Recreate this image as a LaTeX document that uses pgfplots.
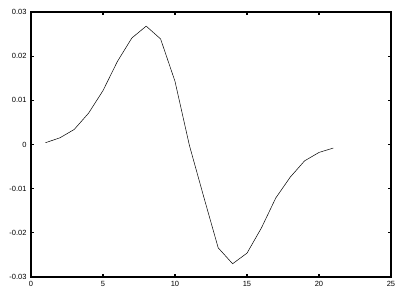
\documentclass[border=0pt]{standalone}
\usepackage{pgfplots}
\pgfplotsset{compat=1.18}
\usepackage{fontspec}
\setmainfont{Liberation Sans}
\begin{document}
\begin{tikzpicture}[x=1pt,y=1pt]
\begin{axis}[
  scale only axis,
  width=360pt, height=265pt,
  xmin=0, xmax=25, ymin=-0.03, ymax=0.03,
  xtick={0,5,10,15,20,25},
  ytick={-0.03,-0.02,-0.01,0,0.01,0.02,0.03},
  yticklabels={-0.03,-0.02,-0.01,0,0.01,0.02,0.03},
  scaled y ticks=false,
  tick align=inside,
  major tick length=3pt,
  axis line style={line width=1.6pt},
  every tick/.style={black, line width=1.2pt},
  tick label style={font=\fontsize{7.5}{8}\selectfont},
  /pgf/number format/assume math mode=true,
  xticklabel style={yshift=-1pt},
  yticklabel style={xshift=-1pt},
  axis background/.style={fill=white},
]
\addplot[black, line width=0.5pt] coordinates {
(1,0.0004) (2,0.0015) (3,0.0034) (4,0.0071) (5,0.0122) (6,0.0188)
(7,0.0241) (8,0.0268) (9,0.0239) (10,0.0143) (11,-0.0002) (12,-0.0119)
(13,-0.0234) (14,-0.0270) (15,-0.0246) (16,-0.0189) (17,-0.0121)
(18,-0.0074) (19,-0.0037) (20,-0.0018) (21,-0.0008)
};
\end{axis}
\useasboundingbox (-31pt,-22pt) rectangle (379pt,277pt);
\end{tikzpicture}
\end{document}
